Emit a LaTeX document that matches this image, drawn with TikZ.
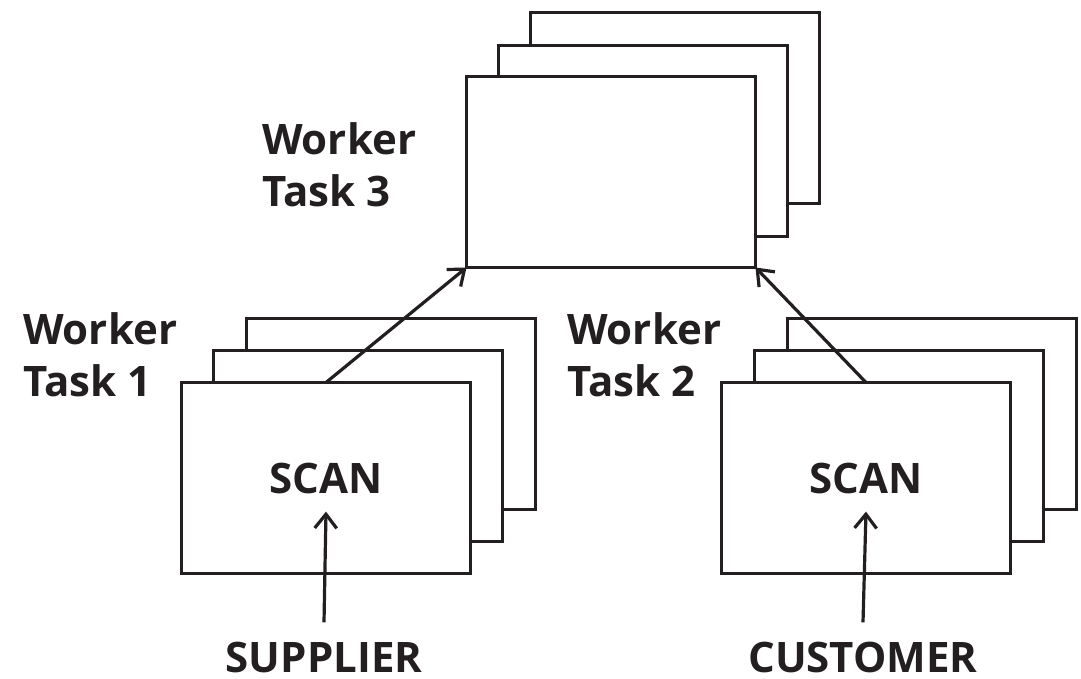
\documentclass[tikz,border=0pt]{standalone}
\usepackage{fontspec}
\setmainfont{Open Sans}
\usetikzlibrary{arrows.meta}
\definecolor{ink}{HTML}{231F20}
\begin{document}
\begin{tikzpicture}[x=1pt,y=-1pt,
  card/.style={draw=ink,line width=3pt,fill=white,minimum width=289pt,minimum height=191pt,inner sep=0pt,outer sep=0pt},
  lbl/.style={font=\fontsize{42}{52}\selectfont\bfseries,text=ink,align=left,inner sep=0pt,anchor=north west},
  captext/.style={font=\fontsize{42}{50}\selectfont\bfseries,text=ink,inner sep=0pt},
  arr/.style={draw=ink,line width=3.2pt,-{Straight Barb[length=14pt,width=22pt]}}]
\useasboundingbox (0,0) rectangle (1081,679);
% top stack
\node[card] (T3c) at (675,108) {};
\node[card] (T3b) at (643,141) {};
\node[card] (T3a) at (611,172) {};
% left stack
\node[card] (S1c) at (391,414) {};
\node[card] (S1b) at (358,446) {};
\node[card] (S1)  at (326,478) {};
% right stack
\node[card] (S2c) at (932,414) {};
\node[card] (S2b) at (899,446) {};
\node[card] (S2)  at (866,478) {};
% labels
\node[lbl] (L3) at (262,122) {Worker\\Task 3};
\node[lbl] (L1) at (23,312) {Worker\\Task 1};
\node[lbl] (L2) at (567,312) {Worker\\Task 2};
\node[captext] (scan1) at (S1.center) {SCAN};
\node[captext] (scan2) at (S2.center) {SCAN};
\node[captext] (sup) at (324,657) {SUPPLIER};
\node[captext] (cus) at (863,657) {CUSTOMER};
% arrows
\draw[arr] ([yshift=19pt]sup.north) -- ([yshift=-18pt]scan1.south);
\draw[arr] ([yshift=19pt]cus.north) -- ([yshift=-18pt]scan2.south);
\draw[arr] (S1.north) -- (T3a.south west);
\draw[arr] (S2.north) -- (T3a.south east);
\end{tikzpicture}
\end{document}
